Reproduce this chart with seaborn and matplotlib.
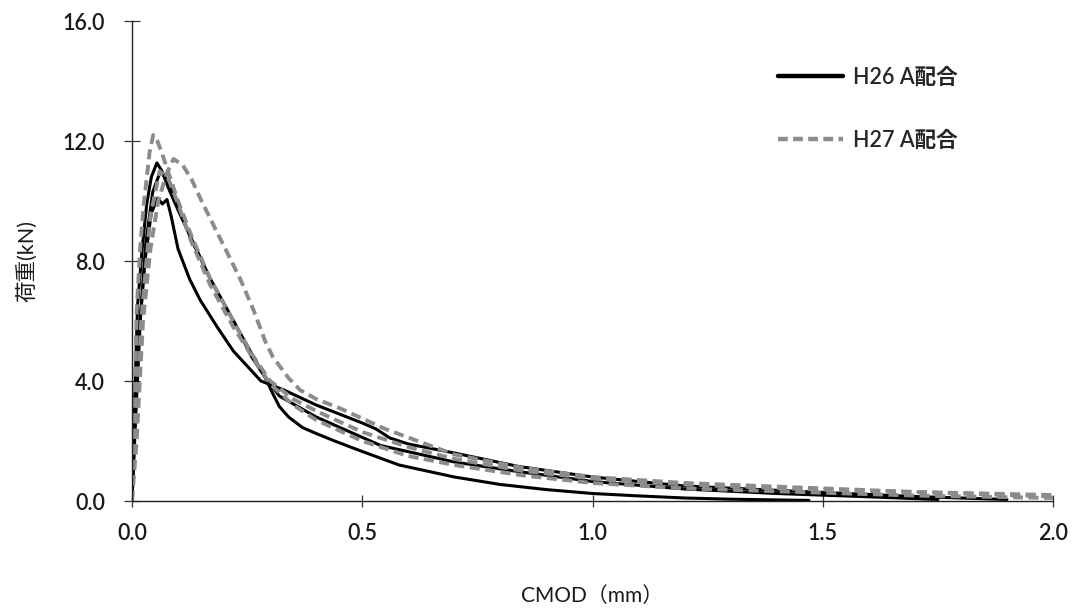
import matplotlib
matplotlib.use("Agg")
import matplotlib.pyplot as plt
from matplotlib.lines import Line2D
import seaborn as sns
import pandas as pd

# ---- data ----
series_names = ["H26 A配合", "H27 A配合"]

h26_1_x = [0, 0.005, 0.012, 0.022, 0.032, 0.042, 0.054, 0.065, 0.08, 0.1, 0.13, 0.17, 0.224, 0.26, 0.29, 0.305, 0.32, 0.34, 0.37, 0.4, 0.44, 0.5, 0.58, 0.7, 0.8, 0.9, 1.0, 1.1, 1.2, 1.3, 1.47]
h26_1_y = [0, 3.0, 6.5, 8.4, 9.9, 10.8, 11.27, 11.0, 10.4, 9.7, 8.7, 7.4, 5.9, 4.9, 4.1, 3.6, 3.15, 2.8, 2.45, 2.25, 2.0, 1.65, 1.2, 0.8, 0.55, 0.38, 0.25, 0.17, 0.1, 0.06, 0.02]

h26_2_x = [0, 0.006, 0.015, 0.028, 0.042, 0.056, 0.066, 0.076, 0.085, 0.1, 0.125, 0.148, 0.185, 0.22, 0.25, 0.28, 0.33, 0.4, 0.5, 0.53, 0.56, 0.6, 0.7, 0.84, 1.0, 1.2, 1.45, 1.7, 1.9]
h26_2_y = [0, 2.5, 5.5, 8.0, 9.6, 10.1, 9.9, 10.05, 9.5, 8.4, 7.4, 6.7, 5.8, 5.0, 4.5, 4.0, 3.7, 3.2, 2.6, 2.4, 2.1, 1.9, 1.6, 1.15, 0.8, 0.5, 0.32, 0.15, 0.05]

h26_3_x = [0, 0.008, 0.018, 0.03, 0.045, 0.062, 0.08, 0.1, 0.13, 0.17, 0.224, 0.26, 0.29, 0.32, 0.4, 0.54, 0.7, 0.83, 1.0, 1.2, 1.4, 1.6, 1.75]
h26_3_y = [0, 2.8, 6.0, 8.6, 10.3, 11.0, 10.6, 9.8, 8.7, 7.4, 5.9, 4.8, 4.1, 3.5, 2.8, 1.85, 1.3, 1.0, 0.65, 0.4, 0.25, 0.14, 0.05]

h27_1_x = [0, 0.004, 0.01, 0.018, 0.025, 0.038, 0.046, 0.055, 0.065, 0.08, 0.1, 0.13, 0.17, 0.22, 0.26, 0.3, 0.35, 0.4, 0.5, 0.6, 0.7, 0.85, 1.0, 1.2, 1.45, 1.7, 2.0]
h27_1_y = [0, 2.0, 6.3, 8.5, 9.8, 11.6, 12.2, 12.0, 11.6, 10.9, 10.0, 8.8, 7.4, 6.0, 4.9, 4.0, 3.4, 3.0, 2.3, 1.8, 1.4, 1.0, 0.75, 0.55, 0.4, 0.3, 0.15]

h27_2_x = [0, 0.01, 0.024, 0.04, 0.057, 0.075, 0.09, 0.11, 0.13, 0.148, 0.18, 0.206, 0.235, 0.263, 0.29, 0.306, 0.34, 0.365, 0.4, 0.45, 0.55, 0.7, 0.85, 1.0, 1.2, 1.45, 1.7, 2.0]
h27_2_y = [0, 2.0, 6.0, 8.4, 10.0, 10.9, 11.4, 11.2, 10.7, 10.1, 9.1, 8.3, 7.4, 6.4, 5.3, 4.8, 4.1, 3.7, 3.4, 3.1, 2.4, 1.55, 1.1, 0.8, 0.6, 0.45, 0.3, 0.2]

h27_3_x = [0, 0.008, 0.02, 0.04, 0.06, 0.08, 0.1, 0.13, 0.17, 0.22, 0.27, 0.3, 0.35, 0.4, 0.5, 0.6, 0.7, 0.85, 1.0, 1.2, 1.45, 1.7, 2.0]
h27_3_y = [0, 2.5, 6.0, 9.5, 11.0, 10.7, 9.9, 8.6, 7.2, 5.8, 4.6, 3.9, 3.2, 2.7, 2.0, 1.5, 1.2, 0.85, 0.6, 0.42, 0.3, 0.18, 0.1]

x_ticks = [0.0, 0.5, 1.0, 1.5, 2.0]
y_ticks = [0.0, 4.0, 8.0, 12.0, 16.0]
x_label = "CMOD（mm）"
y_label = "荷重(kN)"

curves = [
    (series_names[0], "h26_1", h26_1_x, h26_1_y),
    (series_names[0], "h26_2", h26_2_x, h26_2_y),
    (series_names[0], "h26_3", h26_3_x, h26_3_y),
    (series_names[1], "h27_1", h27_1_x, h27_1_y),
    (series_names[1], "h27_2", h27_2_x, h27_2_y),
    (series_names[1], "h27_3", h27_3_x, h27_3_y),
]
rows = []
for s, u, xs, ys in curves:
    for i, (a, b) in enumerate(zip(xs, ys)):
        rows.append({"series": s, "unit": u, "order": i, "cmod": a, "load": b})
df = pd.DataFrame(rows)

# ---- style ----
sns.set_theme(style="white")
plt.rcParams["font.family"] = ["Lato", "Noto Sans CJK JP", "DejaVu Sans"]
plt.rcParams["font.weight"] = "semibold"

fig = plt.figure(figsize=(10.74, 6.10), dpi=100)
ax = fig.add_axes([132 / 1074, 1 - 501 / 610, (1053 - 132) / 1074, (501 - 21) / 610])

black = "#000000"
gray = "#8c8c8c"

for u in ["h26_1", "h26_2", "h26_3"]:
    sub = df[df["unit"] == u]
    sns.lineplot(data=sub, x="cmod", y="load", sort=False, estimator=None,
                 color=black, linewidth=2.2, ax=ax, legend=False)
for u in ["h27_1", "h27_2", "h27_3"]:
    sub = df[df["unit"] == u]
    sns.lineplot(data=sub, x="cmod", y="load", sort=False, estimator=None,
                 color=gray, linewidth=2.8, ax=ax, legend=False)
for ln in ax.get_lines()[3:]:
    ln.set_dashes((2.6, 1.4))

ax.set_xlim(0, 2.0)
ax.set_ylim(0, 16.0)
ax.set_xticks(x_ticks)
ax.set_yticks(y_ticks)
ax.set_xticklabels([f"{v:.1f}" for v in x_ticks])
ax.set_yticklabels([f"{v:.1f}" for v in y_ticks])
ax.tick_params(axis="y", direction="inout", length=11, width=0.9, color="#333333",
               labelsize=15.5, pad=14, left=True, labelcolor="#1a1a1a")
ax.tick_params(axis="x", direction="inout", length=8, width=0.9, color="#333333",
               labelsize=15.5, pad=12, bottom=True, labelcolor="#1a1a1a")
for s in ["top", "right"]:
    ax.spines[s].set_visible(False)
for s in ["left", "bottom"]:
    ax.spines[s].set_color("#222222")
    ax.spines[s].set_linewidth(1.0)

ax.set_xlabel(x_label, fontsize=15, labelpad=30, color="#1a1a1a")
ax.set_ylabel(y_label, fontsize=15.5, labelpad=18, color="#1a1a1a")

handles = [
    Line2D([0], [0], color=black, linewidth=3.2),
    Line2D([0], [0], color=gray, linewidth=3.2, dashes=(2.2, 1.2)),
]
leg = ax.legend(handles, series_names, loc="upper left",
                bbox_to_anchor=(778 / 1074, 1 - 67 / 610),
                bbox_transform=fig.transFigure, frameon=False,
                prop={"size": 15.5, "weight": "semibold"},
                handlelength=3.0, handletextpad=0.5,
                labelspacing=1.95, borderpad=0, borderaxespad=0)

fig.savefig("out.png", dpi=100)
